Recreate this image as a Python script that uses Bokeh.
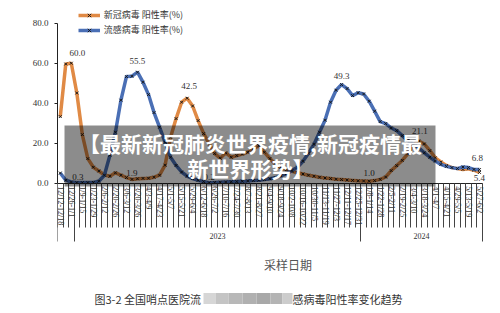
import math
from bokeh.plotting import figure
from bokeh.models import (Range1d, LinearAxis, FixedTicker, PrintfTickFormatter, Label,
                          BoxAnnotation, Legend, LegendItem, ColumnDataSource)
from bokeh.core.properties import value
from bokeh.embed import file_html
from bokeh.resources import INLINE

# ---------------- data ----------------
week_labels = ["12/12-12/18", "12/26-1/1", "1/9-1/15", "1/23-1/29", "2/6-2/12", "2/20-2/26",
               "3/6-3/12", "3/20-3/26", "4/3-4/9", "4/17-4/23", "5/1-5/7", "5/15-5/21",
               "5/29-6/4", "6/12-6/18", "6/26-7/2", "7/10-7/16", "7/24-7/30", "8/7-8/13",
               "8/21-8/27", "9/4-9/10", "9/18-9/24", "10/2-10/8", "10/16-10/22", "10/30-11/5",
               "11/13-11/19", "11/27-12/3", "12/11-12/17", "12/25-12/31", "1/8-1/14",
               "1/22-1/28", "2/5-2/11", "2/19-2/25", "3/4-3/10", "3/18-3/24", "4/1-4/7",
               "4/15-4/21", "4/29-5/5", "5/13-5/19", "5/27-6/2"]
years = ["2023", "2024"]
year_first_week = [3, 55, 77]   # week index where 2023, 2024 start, and end

covid = [33.3, 59.6, 60.0, 45.1, 24.3, 12.3, 8.0, 6.1, 4.1, 3.5,
         5.2, 4.0, 2.8, 1.9, 2.2, 2.4, 2.5, 3.0, 4.0, 9.0,
         23.0, 32.3, 40.5, 42.5, 38.6, 31.3, 24.8, 19.7, 14.8, 12.5,
         15.2, 13.0, 13.8, 14.6, 15.5, 17.2, 18.7, 15.5, 12.3, 9.5,
         7.8, 6.7, 5.9, 5.2, 4.6, 4.0, 3.5, 3.0, 2.6, 2.3,
         2.0, 1.8, 1.6, 1.4, 1.2, 1.1, 1.0, 1.3, 1.9, 3.1,
         6.3, 8.8, 11.4, 14.7, 19.4, 21.1, 19.6, 16.3, 12.7, 10.6,
         8.9, 7.8, 7.3, 6.9, 7.2, 6.5, 5.4]
flu = [5.1, 1.5, 0.6, 0.3, 0.3, 0.3, 0.4, 1.0, 4.0, 14.0,
       25.5, 41.5, 53.3, 53.5, 55.5, 50.5, 44.3, 35.3, 28.0, 20.5,
       13.0, 8.9, 5.6, 3.5, 2.3, 1.5, 0.8, 0.2, 0.4, 0.5,
       0.6, 0.7, 0.8, 1.0, 1.1, 1.3, 1.5, 1.8, 2.2, 2.8,
       3.6, 4.8, 6.3, 8.0, 11.0, 15.0, 19.5, 25.5, 31.5, 40.5,
       46.5, 49.3, 47.3, 43.8, 45.2, 44.6, 41.0, 36.0, 30.8, 29.8,
       27.6, 26.3, 23.8, 21.3, 19.6, 17.7, 15.2, 13.0, 11.1, 9.4,
       8.4, 7.8, 7.3, 8.1, 7.8, 6.9, 6.8]
weeks = list(range(len(covid)))

covid_label_weeks = [2, 13, 23, 56, 65, 76]
flu_label_weeks = [3, 14, 27, 51, 76]

series_names = ["新冠病毒 阳性率(%)", "流感病毒 阳性率(%)"]

# ---------------- geometry ----------------
W, H = 500, 313
FL = 57          # frame left in px
PXW = 5.516      # px per week
PXV = 2.0        # px per percent
Y0 = 182.7       # px of value 0

def dx(px):
    return -0.5 + (px - FL) / PXW

def dy(py):
    return (Y0 - py) / PXV

ORANGE = "#E08A45"
BLUE = "#4A6FB5"
SERIF = "Liberation Serif"
CJK = "Noto Sans CJK SC"

p = figure(width=W, height=H, output_backend="svg", toolbar_location=None,
           x_range=Range1d(dx(FL), dx(W)), y_range=Range1d(dy(H), dy(0)),
           x_axis_location=None, y_axis_location=None,
           min_border_left=FL, min_border_right=0, min_border_top=0, min_border_bottom=0)
p.title.visible = False
p.outline_line_color = None
p.grid.visible = False
p.background_fill_color = "white"
p.border_fill_color = "white"

# y axis
yax = LinearAxis(ticker=FixedTicker(ticks=[0, 20, 40, 60, 80]),
                 formatter=PrintfTickFormatter(format="%.1f"), bounds=(0, 80),
                 major_tick_out=3, major_tick_in=0, minor_tick_out=0, minor_tick_in=0,
                 major_label_standoff=6, axis_line_color="#222", major_tick_line_color="#222",
                 major_label_text_font=SERIF, major_label_text_font_size="9px",
                 major_label_text_color="#333")
p.add_layout(yax, "left")

n = len(weeks)
# week boundary lines + axis line
xax_lines = LinearAxis(fixed_location=0, ticker=FixedTicker(ticks=[k - 0.5 for k in range(n + 1)]),
                       bounds=(-0.5, n - 0.5), major_tick_out=44, major_tick_in=0,
                       minor_tick_out=0, minor_tick_in=0, axis_line_color="#222",
                       major_tick_line_color="#444", major_label_text_font_size="0px",
                       major_label_text_alpha=0)
p.add_layout(xax_lines, "below")

# year separators
sep_ticks = [-0.5] + [k - 0.5 for k in year_first_week]
xax_years_sep = LinearAxis(fixed_location=0, ticker=FixedTicker(ticks=sep_ticks),
                           major_tick_out=58, major_tick_in=0, minor_tick_out=0, minor_tick_in=0,
                           axis_line_alpha=0, major_tick_line_color="#444",
                           major_label_text_font_size="0px", major_label_text_alpha=0)
p.add_layout(xax_years_sep, "below")

# week labels
label_ticks = list(range(0, n, 2))
xax_lab = LinearAxis(fixed_location=0, ticker=FixedTicker(ticks=label_ticks),
                     major_label_overrides={t: s for t, s in zip(label_ticks, week_labels)},
                     major_label_orientation=-math.pi / 2, major_tick_out=0, major_tick_in=0,
                     minor_tick_out=0, minor_tick_in=0, axis_line_alpha=0,
                     major_label_standoff=3, major_label_text_font=SERIF,
                     major_label_text_font_size="8px", major_label_text_color="#333")
p.add_layout(xax_lab, "below")

# year labels
year_centers = [(year_first_week[i] + year_first_week[i + 1] - 1) / 2 for i in range(len(years))]
xax_yr = LinearAxis(fixed_location=0, ticker=FixedTicker(ticks=year_centers),
                    major_label_overrides={t: s for t, s in zip(year_centers, years)},
                    major_tick_out=0, major_tick_in=0, minor_tick_out=0, minor_tick_in=0,
                    axis_line_alpha=0, major_label_standoff=50, major_label_text_font=SERIF,
                    major_label_text_font_size="8px", major_label_text_color="#333")
p.add_layout(xax_yr, "below")

# series
src = ColumnDataSource(dict(x=weeks, covid=covid, flu=flu))
r1 = p.line("x", "covid", source=src, line_color=ORANGE, line_width=3.5)
s1 = p.scatter("x", "covid", source=src, marker="x", size=4, line_color="#1a1a1a", line_width=1)
r2 = p.line("x", "flu", source=src, line_color=BLUE, line_width=3.5)
s2 = p.scatter("x", "flu", source=src, marker="x", size=4, line_color="#1a1a1a", line_width=1)

# data labels
cl_src = ColumnDataSource(dict(
    x=covid_label_weeks, y=[covid[k] for k in covid_label_weeks],
    t=["%.1f" % covid[k] for k in covid_label_weeks],
    xo=[6, 0, 2, 0, 1, 0], yo=[-10, -6, -12, -8, -10, 6]))
fl_src = ColumnDataSource(dict(
    x=flu_label_weeks, y=[flu[k] for k in flu_label_weeks],
    t=["%.1f" % flu[k] for k in flu_label_weeks],
    xo=[1, 0, 0, 0, -2], yo=[-6, -11, -6, -9, -12]))
for s in (cl_src, fl_src):
    p.text("x", "y", text="t", x_offset="xo", y_offset="yo", source=s,
           text_align="center", text_baseline="middle", text_font=value(SERIF),
           text_font_size="9px", text_color="#333")

# legend
legend = Legend(items=[LegendItem(label=series_names[0], renderers=[r1, s1]),
                       LegendItem(label=series_names[1], renderers=[r2, s2])],
                location=(20.7, 277), orientation="vertical", padding=0, margin=0,
                spacing=2, glyph_width=22, glyph_height=12, label_height=12,
                label_standoff=4, border_line_alpha=0, background_fill_alpha=0,
                label_text_font=CJK, label_text_font_size="9px", label_text_color="#333")
p.add_layout(legend)

# y axis title (stacked)
for ch, py in zip(["阳", "性", "率"], [74, 88.5, 103]):
    p.add_layout(Label(x=dx(19), y=dy(py), text=ch, text_align="center", text_baseline="middle",
                       text_font=CJK, text_font_size="12px", text_color="#333"))
p.add_layout(Label(x=dx(19), y=dy(121), text="(%)", angle=-math.pi / 2, text_align="center",
                   text_baseline="middle", text_font=CJK, text_font_size="11px", text_color="#333"))

# x axis title
p.add_layout(Label(x=dx(287.5), y=dy(263.5), text="采样日期", text_align="center",
                   text_baseline="middle", text_font=CJK, text_font_size="12px", text_color="#555"))

# caption (partly blurred)
p.add_layout(Label(x=dx(94), y=dy(298), text="图3-2 全国哨点医院流", text_align="left",
                   text_baseline="middle", text_font=CJK, text_font_size="11px", text_color="#333"))
p.add_layout(Label(x=dx(292), y=dy(298), text="感病毒阳性率变化趋势", text_align="left",
                   text_baseline="middle", text_font=CJK, text_font_size="11px", text_color="#333"))
blur_edges = [203, 215, 228, 242, 256, 270, 282, 292]
blur_cols = ["#d6d6d6", "#c4c4c4", "#b8b8b8", "#b0b0b0", "#a8a8a8", "#b4b4b4", "#cccccc"]
for i, c in enumerate(blur_cols):
    p.add_layout(BoxAnnotation(left=dx(blur_edges[i]), right=dx(blur_edges[i + 1]),
                               top=dy(292.5), bottom=dy(303.5),
                               fill_color=c, fill_alpha=1.0, line_alpha=0))

# overlay banner
p.add_layout(BoxAnnotation(left=dx(64), right=dx(435), top=dy(125), bottom=dy(186),
                           fill_color="black", fill_alpha=0.45, line_alpha=0))
p.add_layout(Label(x=dx(250), y=dy(142.5), text="【最新新冠肺炎世界疫情,新冠疫情最",
                   text_align="center", text_baseline="middle", text_font=CJK,
                   text_font_size="21px", text_font_style="bold", text_color="white"))
p.add_layout(Label(x=dx(250), y=dy(167.5), text="新世界形势】",
                   text_align="center", text_baseline="middle", text_font=CJK,
                   text_font_size="21px", text_font_style="bold", text_color="white"))

open("out.html", "w").write(file_html(p, INLINE))
